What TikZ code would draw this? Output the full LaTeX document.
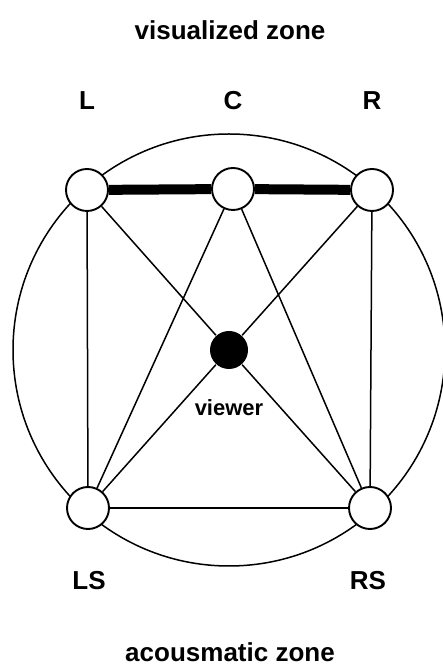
\documentclass[tikz,border=0pt]{standalone}
\usepackage{fontspec}
\setmainfont{Liberation Sans}
\begin{document}
\begin{tikzpicture}[x=1pt, y=1pt, line width=1.5pt, font=\fontsize{26}{28}\selectfont\bfseries,
    spk/.style={circle, draw, fill=white, minimum size=42pt, inner sep=0pt, line width=1.9pt},
    lbl/.style={anchor=base, inner sep=0pt}]
  \useasboundingbox (0,0) rectangle (443,666);
  \node[circle, fill=black, minimum size=38pt, inner sep=0pt] (viewer) at (229,316) {};
  \draw (viewer.center) circle[radius=216];
  \node[spk] (L) at (87,476) {};
  \node[spk] (C) at (233,477) {};
  \node[spk] (R) at (372,476) {};
  \node[spk] (LS) at (88,158) {};
  \node[spk] (RS) at (370,158) {};
  \draw[line width=10pt] (L) -- (C);
  \draw[line width=10pt] (C) -- (R);
  \draw (L) -- (LS);
  \draw (R) -- (RS);
  \draw (LS) -- (RS);
  \draw (L) -- (viewer);
  \draw (R) -- (viewer);
  \draw (LS) -- (viewer);
  \draw (RS) -- (viewer);
  \draw (C) -- (LS);
  \draw (C) -- (RS);
  \node[lbl] (vis) at (230,626) {visualized zone};
  \node[lbl] (Ltxt) at (87,556) {L};
  \node[lbl] (Ctxt) at (233,556) {C};
  \node[lbl] (Rtxt) at (372,556) {R};
  \node[lbl] (LStxt) at (89,76) {LS};
  \node[lbl] (RStxt) at (368,76) {RS};
  \node[lbl, font=\fontsize{22}{24}\selectfont\bfseries] (vtxt) at (229,250) {viewer};
  \node[lbl] (acu) at (230,5) {acousmatic zone};
\end{tikzpicture}
\end{document}
